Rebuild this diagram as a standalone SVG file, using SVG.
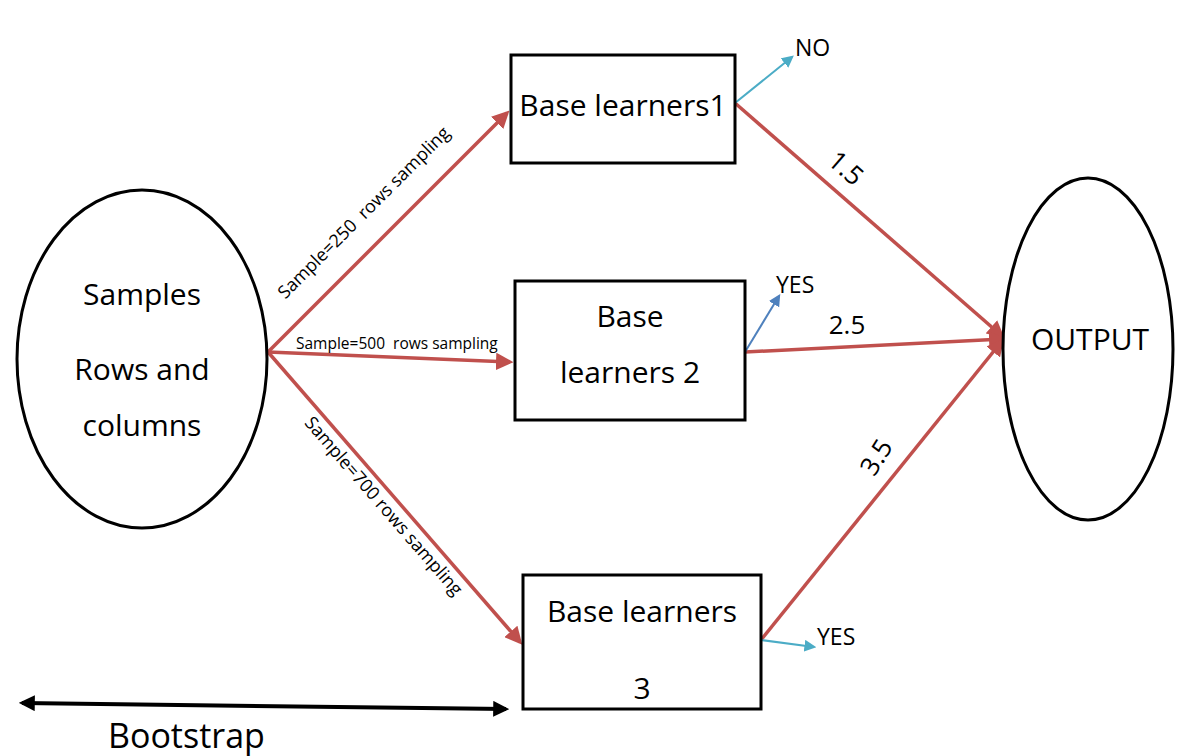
<svg xmlns="http://www.w3.org/2000/svg" width="1183" height="756" viewBox="0 0 1183 756">
<style>
text{font-family:"Open Sans","Liberation Sans",sans-serif;fill:#000}
.node{fill:#fff;stroke:#000;stroke-width:3}
.big{font-size:30px;text-anchor:middle}
.red{stroke:#C0504D;stroke-width:3.5;fill:none}
.cyan{stroke:#4BACC6;stroke-width:2;fill:none}
.blue{stroke:#4F81BD;stroke-width:2;fill:none}
.lbl{font-size:18px}
.num{font-size:26px;text-anchor:middle}
.yn{font-size:23px}
.pre{white-space:pre}
</style>
<defs>
<marker id="ar" viewBox="0 0 10 10" refX="8" refY="5" markerWidth="5" markerHeight="5" orient="auto" markerUnits="strokeWidth"><path d="M0,0L10,5L0,10z" fill="#C0504D"/></marker>
<marker id="ac" viewBox="0 0 10 10" refX="8" refY="5" markerWidth="6" markerHeight="6" orient="auto" markerUnits="strokeWidth"><path d="M0,0L10,5L0,10z" fill="#4BACC6"/></marker>
<marker id="ab" viewBox="0 0 10 10" refX="8" refY="5" markerWidth="6" markerHeight="6" orient="auto" markerUnits="strokeWidth"><path d="M0,0L10,5L0,10z" fill="#4F81BD"/></marker>
<marker id="ak" viewBox="0 0 10 10" refX="8" refY="5" markerWidth="4" markerHeight="4" orient="auto-start-reverse" markerUnits="strokeWidth"><path d="M0,0L10,5L0,10z" fill="#000"/></marker>
</defs>
<g id="connectors">
<line class="red" x1="268" y1="352" x2="507" y2="113" marker-end="url(#ar)"/>
<line class="red" x1="268" y1="352" x2="510" y2="362" marker-end="url(#ar)"/>
<line class="red" x1="268" y1="352" x2="520" y2="642" marker-end="url(#ar)"/>
<line class="red" x1="735" y1="103" x2="1002" y2="336" marker-end="url(#ar)"/>
<line class="red" x1="745" y1="352" x2="1003" y2="339" marker-end="url(#ar)"/>
<line class="red" x1="761" y1="640" x2="1002" y2="341" marker-end="url(#ar)"/>
<line class="cyan" x1="735" y1="103" x2="792" y2="57" marker-end="url(#ac)"/>
<line class="blue" x1="745" y1="352" x2="779" y2="296" marker-end="url(#ab)"/>
<line class="cyan" x1="761" y1="640" x2="814" y2="647" marker-end="url(#ac)"/>
<line x1="22" y1="703" x2="506" y2="709" stroke="#000" stroke-width="4" marker-start="url(#ak)" marker-end="url(#ak)"/>
<text class="lbl pre" xml:space="preserve" transform="translate(368,217) rotate(-45)" text-anchor="middle">Sample=250  rows sampling</text>
<text class="pre" xml:space="preserve" x="296" y="349" style="font-size:15.5px">Sample=500  rows sampling</text>
<text class="lbl" transform="translate(379,510) rotate(49)" text-anchor="middle">Sample=700 rows sampling</text>
<text class="num" transform="translate(840,175) rotate(41)">1.5</text>
<text class="num" x="847" y="334">2.5</text>
<text class="num" transform="translate(884,462) rotate(-58)">3.5</text>
<text class="yn" x="795" y="56">NO</text>
<text class="yn" x="776" y="293">YES</text>
<text class="yn" x="817" y="645">YES</text>
<text x="108" y="748" style="font-size:34px">Bootstrap</text>
</g>
<g id="samples">
<ellipse class="node" cx="142" cy="359" rx="125" ry="169"/>
<text class="big" x="142" y="305">Samples</text>
<text class="big" x="142" y="380">Rows and</text>
<text class="big" x="142" y="436">columns</text>
</g>
<g id="output">
<ellipse class="node" cx="1088" cy="349" rx="85" ry="171"/>
<text class="big" x="1090" y="350">OUTPUT</text>
</g>
<g id="learner1">
<rect class="node" x="511" y="55" width="224" height="108"/>
<text class="big" x="623" y="116">Base learners1</text>
</g>
<g id="learner2">
<rect class="node" x="515" y="281" width="230" height="139"/>
<text class="big" x="630" y="327">Base</text>
<text class="big" x="630" y="383">learners 2</text>
</g>
<g id="learner3">
<rect class="node" x="523" y="575" width="238" height="134"/>
<text class="big" x="642" y="622">Base learners</text>
<text class="big" x="642" y="699">3</text>
</g>
</svg>
